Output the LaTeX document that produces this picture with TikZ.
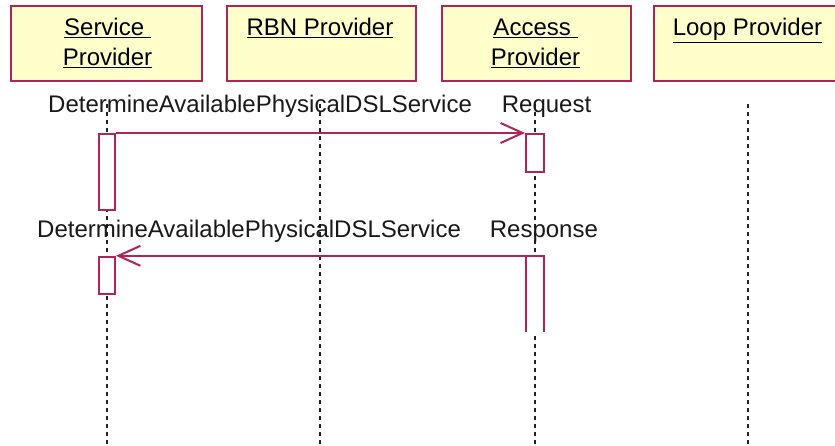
\documentclass[tikz,border=0pt]{standalone}
\usepackage{fontspec}
\setmainfont{Liberation Sans}
\usetikzlibrary{arrows.meta}
\definecolor{crim}{HTML}{B0245A}
\definecolor{boxfill}{HTML}{FFFFCC}
\definecolor{lifegray}{HTML}{222222}
\begin{document}
\begin{tikzpicture}[x=1pt,y=-1pt,
  every node/.style={font=\fontsize{24}{28}\selectfont},
  actorbox/.style={draw=crim, fill=boxfill, line width=2pt, inner sep=0pt, anchor=north west},
  titletext/.style={anchor=base, inner sep=0pt},
  lifeline/.style={draw=lifegray, line width=2pt, dash pattern=on 4pt off 4pt},
  actbox/.style={draw=crim, fill=white, line width=2pt, inner sep=0pt, minimum width=17pt},
  msg/.style={draw=crim, line width=2pt, -{Straight Barb[length=22pt,width=20pt,line width=2pt]}},
  msglabel/.style={anchor=base west, inner sep=0pt, text=black!90}
]
\useasboundingbox (0,0) rectangle (835,446);
\clip (0,0) rectangle (835,446);

% actor boxes
\node[actorbox, minimum width=191pt, minimum height=75pt] (sp) at (10,5) {};
\node[actorbox, minimum width=189pt, minimum height=75pt] (rbn) at (226,5) {};
\node[actorbox, minimum width=189pt, minimum height=75pt] (ap) at (441,5) {};
\node[actorbox, minimum width=190pt, minimum height=75pt] (lp) at (653,5) {};

% titles
\node[titletext] (spt1) at (107.5,36) {\underline{Service\ }};
\node[titletext] (spt2) at (107.5,66) {\underline{Provider}};
\node[titletext] (rbnt) at (320,36) {\underline{RBN Provider}};
\node[titletext] (apt1) at (535.5,36) {\underline{Access\ }};
\node[titletext] (apt2) at (535.5,66) {\underline{Provider}};
\node[titletext] (lpt) at (747.5,36) {\underline{Loop Provider}};

% lifelines
\coordinate (spTop) at (107,104);  \coordinate (spBot) at (107,446);
\coordinate (rbnTop) at (320,104); \coordinate (rbnBot) at (320,446);
\coordinate (apTop) at (535,104);  \coordinate (apBot) at (535,446);
\coordinate (lpTop) at (748,104);  \coordinate (lpBot) at (748,446);
\draw[lifeline] (spTop) -- (spBot);
\draw[lifeline] (rbnTop) -- (rbnBot);
\draw[lifeline] (apTop) -- (apBot);
\draw[lifeline] (lpTop) -- (lpBot);

% message labels
\node[msglabel] (m1) at (48,113) {DetermineAvailablePhysicalDSLService\hspace{30pt}Request};
\node[msglabel] (m2) at (37,238) {DetermineAvailablePhysicalDSLService\hspace{29pt}Response};

% activations
\node[actbox, minimum width=16pt, minimum height=76pt] (sa1) at (107,172) {};
\node[actbox, minimum width=16pt, minimum height=37pt] (sa2) at (107,275.5) {};
\node[actbox, minimum width=18pt, minimum height=38pt] (aa1) at (535,153) {};
\node[fill=white, inner sep=0pt, minimum width=18pt, minimum height=76pt] (aa2) at (535,294) {};
\draw[crim, line width=2pt] (aa2.south west) -- (aa2.north west) -- (aa2.north east) -- (aa2.south east);

% messages
\draw[msg] (sa1.north east) -- (aa1.north west);
\draw[msg] (aa2.north west) -- (aa2.north west -| sa2.north east);
\end{tikzpicture}
\end{document}
